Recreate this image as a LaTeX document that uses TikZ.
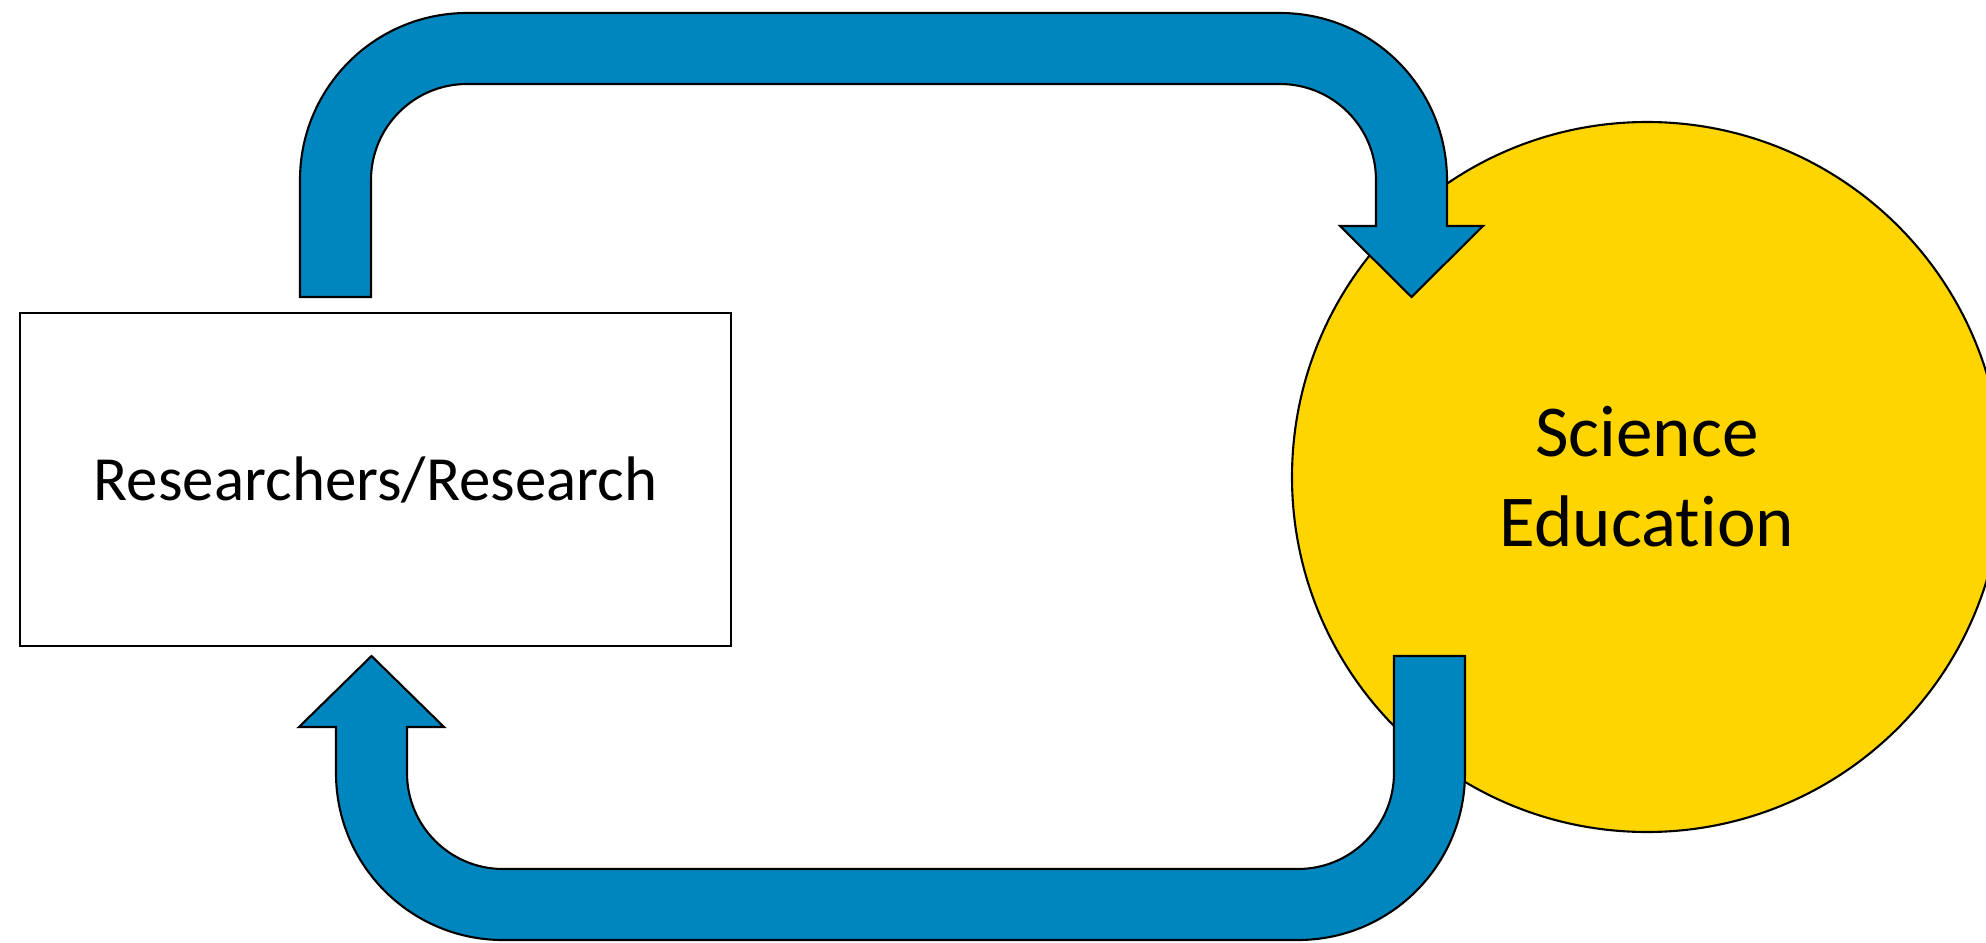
\documentclass[tikz,border=0pt]{standalone}
\usepackage{fontspec}
\setmainfont{Carlito}[Ligatures=NoCommon]
\usepackage{tikz}
\usetikzlibrary{positioning, calc}
\definecolor{loopblue}{RGB}{0,134,191}
\definecolor{loopyellow}{RGB}{255,213,0}
\tikzset{
  sidebox/.style={
    draw, line width=0.6pt, fill=white, align=center,
    minimum width=71.1mm, minimum height=33.3mm, inner sep=0pt,
    font=\fontsize{17.9}{22}\selectfont
  },
  sidecircle/.style={
    circle, draw, line width=0.6pt, fill=loopyellow, align=center,
    minimum size=71mm, inner sep=0pt,
    font=\fontsize{20.8}{25.6}\selectfont
  },
  blockarrow/.style={
    draw, line width=0.6pt, fill=loopblue, line join=miter
  },
}

\begin{document}
\begin{tikzpicture}[x=0.1mm, y=0.1mm]
  \useasboundingbox (0,0) rectangle (1986,942);

  % Research side
  \node[sidebox] (research) at (375.5,462.5) {Researchers/Research};

  % Education side
  \node[sidecircle] (education) at (1647,465) {Science\\Education};

  % Research -> Education (over the top)
  \draw[blockarrow] (300,645) -- (300,762)
    arc[start angle=180, end angle=90, radius=16.7mm] -- (1280,929)
    arc[start angle=90, end angle=0, radius=16.7mm] -- (1447,716)
    -- (1483,716) -- (1411.5,645) -- (1340,716) -- (1376,716) -- (1376,762)
    arc[start angle=0, end angle=90, radius=9.6mm] -- (467,858)
    arc[start angle=90, end angle=180, radius=9.6mm] -- (371,645) -- cycle;

  % Education -> Research (along the bottom)
  \draw[blockarrow] (1394,286) -- (1465,286) -- (1465,169)
    arc[start angle=0, end angle=-90, radius=16.7mm] -- (503,2)
    arc[start angle=270, end angle=180, radius=16.7mm] -- (336,215)
    -- (299,215) -- (371.5,286) -- (444,215) -- (407,215) -- (407,169)
    arc[start angle=180, end angle=270, radius=9.6mm] -- (1298,73)
    arc[start angle=-90, end angle=0, radius=9.6mm] -- cycle;
\end{tikzpicture}
\end{document}
